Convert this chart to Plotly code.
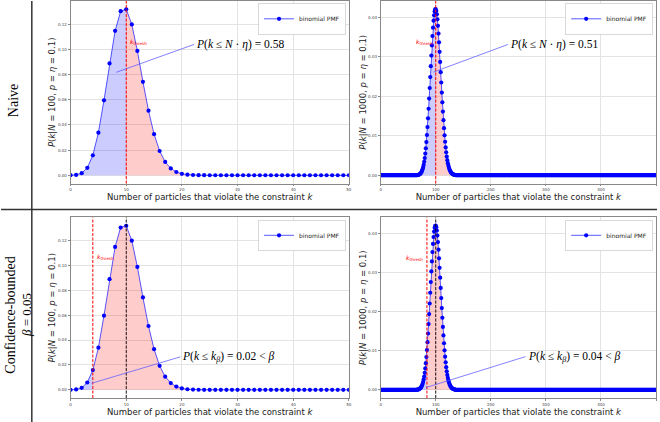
import plotly.graph_objects as go

# ---------------- data ----------------
k_small = list(range(0, 51))
pmf_small = [0.00003, 0.00030, 0.00162, 0.00589, 0.01587, 0.03387, 0.05958, 0.08890,
             0.11482, 0.13042, 0.13187, 0.11988, 0.09879, 0.07430, 0.05130, 0.03268,
             0.01929, 0.01059, 0.00543, 0.00260, 0.00117, 0.00050, 0.00020, 0.00007,
             0.00003, 0.00001, 0, 0, 0, 0, 0, 0, 0, 0, 0, 0, 0, 0, 0, 0, 0, 0, 0, 0,
             0, 0, 0, 0, 0, 0, 0]

k_large = list(range(0, 501))
core_start = 65
pmf_large_core = [0.00002, 0.00004, 0.00006, 0.00009, 0.00013, 0.00020, 0.00029, 0.00041,
                  0.00058, 0.00081, 0.00111, 0.00150, 0.00199, 0.00262, 0.00340, 0.00435,
                  0.00549, 0.00683, 0.00840, 0.01019, 0.01220, 0.01442, 0.01683, 0.01940,
                  0.02209, 0.02484, 0.02760, 0.03030, 0.03287, 0.03524, 0.03734, 0.03911,
                  0.04050, 0.04146, 0.04197, 0.04202, 0.04160, 0.04074, 0.03947, 0.03782,
                  0.03586, 0.03364, 0.03123, 0.02869, 0.02609, 0.02348, 0.02092, 0.01845,
                  0.01611, 0.01393, 0.01192, 0.01011, 0.00848, 0.00705, 0.00581, 0.00474,
                  0.00383, 0.00306, 0.00243, 0.00191, 0.00149, 0.00115, 0.00088, 0.00066,
                  0.00050, 0.00037, 0.00027, 0.00020, 0.00015, 0.00010, 0.00007]
pmf_large = [0.0] * core_start + pmf_large_core + [0.0] * (len(k_large) - core_start - len(pmf_large_core))

panel_N = [100, 1000, 100, 1000]
panel_thresh = [10, 100, 4, 84]
panel_mean = [None, None, 10, 100]
panel_text = ["<i>P</i>(<i>k</i> ≤ <i>N</i> · <i>η</i>) = 0.58",
              "<i>P</i>(<i>k</i> ≤ <i>N</i> · <i>η</i>) = 0.51",
              "<i>P</i>(<i>k</i> ≤ <i>k<sub>β</sub></i>) = 0.02 &lt; <i>β</i>",
              "<i>P</i>(<i>k</i> ≤ <i>k<sub>β</sub></i>) = 0.04 &lt; <i>β</i>"]
# text anchor (ax, ay) and arrow end (x, y) in data units
panel_text_pos = [(22.2, 0.104), (231, 0.0331), (19.7, 0.0265), (263, 0.0085)]
panel_arrow_end = [(8.2, 0.0818), (95.7, 0.0261), (3.8, 0.0053), (82.5, 0.0006)]
panel_kt_pos = [(10.3, 0.1056, "left"), (98, 0.0336, "right"), (4.3, 0.1068, "left"), (81, 0.0338, "right")]

row_labels = ["Naive", "Confidence-bounded", "<i>β</i> = 0.05"]

# ---------------- layout geometry ----------------
W, H = 660, 422
def px(x):
    return x / W
def py(y):
    return 1 - y / H

x_doms = [[px(70), px(350)], [px(382), px(659)]]
y_doms = [[py(183), py(0)], [py(398), py(217)]]

fig = go.Figure()
layout = dict(width=W, height=H, margin=dict(l=0, r=0, t=0, b=0),
              paper_bgcolor="white", plot_bgcolor="white",
              font=dict(family="DejaVu Sans", color="#222"),
              showlegend=True)
shapes = []
annotations = []

BLUE_FILL = "rgba(0,0,255,0.2)"
RED_FILL = "rgba(255,0,0,0.2)"

for i in range(4):
    row, col = divmod(i, 2)
    sfx = "" if i == 0 else str(i + 1)
    xa, ya = "x" + sfx, "y" + sfx
    lg = "legend" + sfx
    N = panel_N[i]
    if N == 100:
        ks, ps = k_small, pmf_small
        xr, yr = [0, 50], [-0.0066, 0.1385]
        xdt, ydt = 10, 0.02
    else:
        ks, ps = k_large, pmf_large
        xr, yr = [0, 500], [-0.0021, 0.0441]
        xdt, ydt = 100, 0.01
    t = panel_thresh[i]
    ti = ks.index(t)
    fig.add_trace(go.Scatter(x=ks[:ti + 1], y=ps[:ti + 1], mode="lines", fill="tozeroy",
                             fillcolor=BLUE_FILL, line=dict(width=0), showlegend=False,
                             hoverinfo="skip", xaxis=xa, yaxis=ya))
    fig.add_trace(go.Scatter(x=ks[ti:], y=ps[ti:], mode="lines", fill="tozeroy",
                             fillcolor=RED_FILL, line=dict(width=0), showlegend=False,
                             hoverinfo="skip", xaxis=xa, yaxis=ya))
    fig.add_trace(go.Scatter(x=ks, y=ps, mode="lines+markers", name="binomial PMF",
                             line=dict(color="rgba(0,0,255,0.65)", width=1),
                             marker=dict(color="blue", size=4.2),
                             xaxis=xa, yaxis=ya, legend=lg))

    layout["xaxis" + sfx] = dict(domain=x_doms[col], range=xr, anchor=ya, dtick=xdt,
                                 showgrid=True, gridcolor="#e3e3e3", gridwidth=0.8,
                                 zeroline=False, showline=True, mirror=True,
                                 linecolor="#888", linewidth=0.8,
                                 ticks="outside", ticklen=2, tickcolor="#888",
                                 tickfont=dict(size=4, color="#444"),
                                 title=dict(text="Number of particles that violate the constraint <i>k</i>",
                                            font=dict(size=8.5), standoff=0))
    layout["yaxis" + sfx] = dict(domain=y_doms[row], range=yr, anchor=xa, dtick=ydt,
                                 tickformat=".2f",
                                 showgrid=True, gridcolor="#e3e3e3", gridwidth=0.8,
                                 zeroline=False, showline=True, mirror=True,
                                 linecolor="#888", linewidth=0.8,
                                 ticks="outside", ticklen=2, tickcolor="#888",
                                 tickfont=dict(size=4, color="#444"),
                                 title=dict(text="<i>P</i>(<i>k</i>|<i>N</i> = %d, <i>p</i> = <i>η</i> = 0.1)" % N,
                                            font=dict(size=8.5), standoff=0))
    layout[lg] = dict(x=x_doms[col][1] - 0.004, y=y_doms[row][1] - 0.006,
                      xanchor="right", yanchor="top", bgcolor="white",
                      bordercolor="#d0d0d0", borderwidth=0.8,
                      font=dict(size=6), itemwidth=30, tracegroupgap=0)

    # threshold / mean lines
    shapes.append(dict(type="line", xref=xa, yref=ya + " domain", x0=t, x1=t, y0=0, y1=1,
                       line=dict(color="red", width=1, dash="3px,1.5px")))
    if panel_mean[i] is not None:
        m = panel_mean[i]
        shapes.append(dict(type="line", xref=xa, yref=ya + " domain", x0=m, x1=m, y0=0, y1=1,
                           line=dict(color="black", width=0.9, dash="3px,1.5px")))
    kx, ky, kan = panel_kt_pos[i]
    annotations.append(dict(x=kx, y=ky, xref=xa, yref=ya, text="<i>k</i><sub>thresh</sub>",
                            showarrow=False, xanchor=kan, yanchor="middle",
                            font=dict(size=6, color="red")))
    tx, ty = panel_text_pos[i]
    axx, ayy = panel_arrow_end[i]
    annotations.append(dict(x=axx, y=ayy, xref=xa, yref=ya, ax=tx, ay=ty, axref=xa, ayref=ya,
                            text=panel_text[i], showarrow=True, arrowhead=0, arrowwidth=1,
                            arrowcolor="rgba(90,90,255,0.75)", xanchor="left", yanchor="middle",
                            font=dict(family="Liberation Serif", size=11.5, color="black")))

# row labels
annotations.append(dict(x=px(12.5), y=py(100), xref="paper", yref="paper", text=row_labels[0],
                        textangle=-90, showarrow=False, xanchor="center", yanchor="middle",
                        font=dict(family="Liberation Serif", size=14, color="black")))
annotations.append(dict(x=px(9.5), y=py(315), xref="paper", yref="paper", text=row_labels[1],
                        textangle=-90, showarrow=False, xanchor="center", yanchor="middle",
                        font=dict(family="Liberation Serif", size=14, color="black")))
annotations.append(dict(x=px(25), y=py(315), xref="paper", yref="paper", text=row_labels[2],
                        textangle=-90, showarrow=False, xanchor="center", yanchor="middle",
                        font=dict(family="Liberation Serif", size=13, color="black")))

# separators
shapes.append(dict(type="line", xref="paper", yref="paper", x0=px(31), x1=px(31), y0=0, y1=1,
                   line=dict(color="#333", width=1.5)))
shapes.append(dict(type="line", xref="paper", yref="paper", x0=0, x1=1, y0=py(209), y1=py(209),
                   line=dict(color="#333", width=1.5)))

layout["shapes"] = shapes
layout["annotations"] = annotations
fig.update_layout(**layout)
fig.write_html("out.html", config={"displayModeBar": False},
               post_script="document.body.style.margin='0px';document.body.style.padding='0px';")
